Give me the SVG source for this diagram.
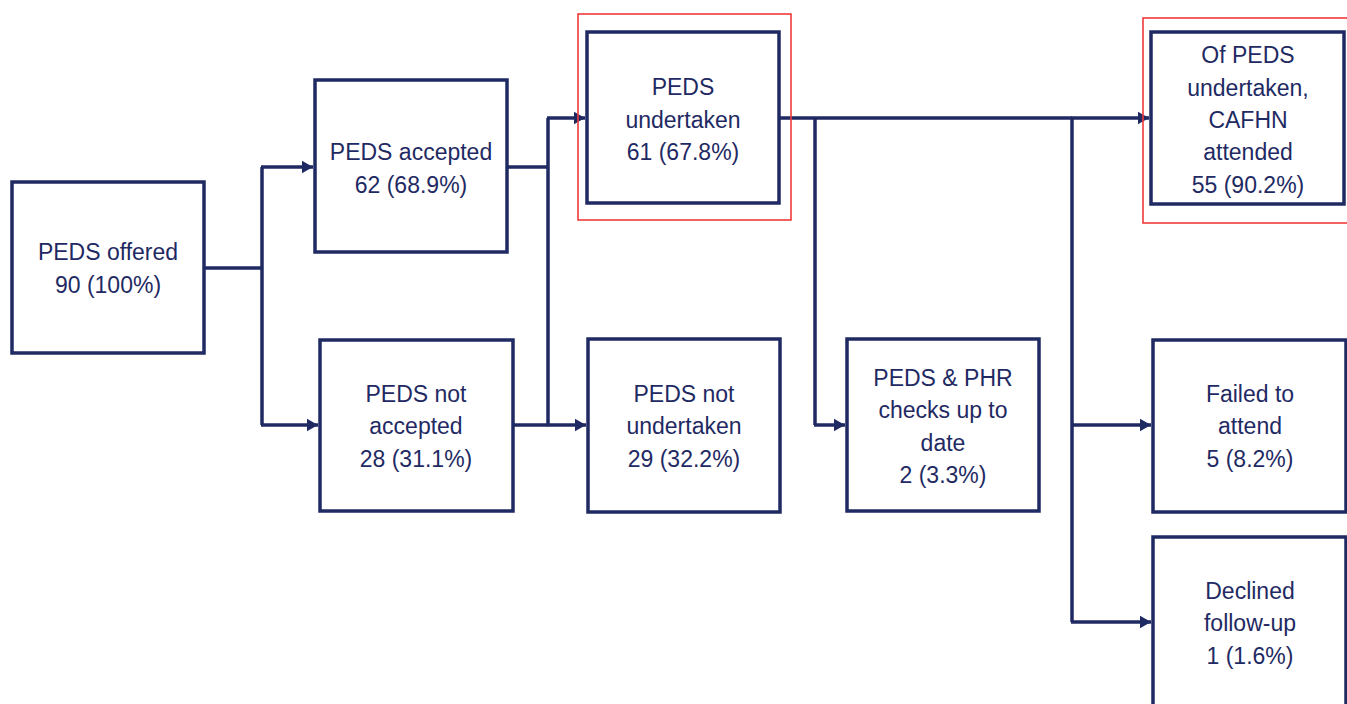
<svg xmlns="http://www.w3.org/2000/svg" width="1347" height="704" viewBox="0 0 1347 704">
<style>
.box{fill:#fff;stroke:#1f2a63;stroke-width:3.5}
.hl{fill:none;stroke:#f03a3a;stroke-width:1.6}
.ln{fill:none;stroke:#1f2a63;stroke-width:3.5}
.ar{marker-end:url(#ah)}
text{font-family:"Liberation Sans",Arial,sans-serif;font-size:23px;fill:#1f2a63;text-anchor:middle}
</style>
<defs>
<marker id="ah" markerWidth="4" markerHeight="4" refX="3.2" refY="2" orient="auto" markerUnits="strokeWidth">
<path d="M0,0.2 L3.2,2 L0,3.8 Z" fill="#1f2a63"/>
</marker>
</defs>
<rect width="1347" height="704" fill="#fff"/>
<g id="connectors">
<path class="ln" d="M205,268 H262 M262,167 V425 M507,167 H548 M513,425 H548 M548,118 V425 M779,118 H815 M815,118 V425 M815,118 H1072 M1072,118 V622"/>
<path class="ln ar" d="M261,167 H313"/>
<path class="ln ar" d="M261,425 H318"/>
<path class="ln ar" d="M547,118 H585"/>
<path class="ln ar" d="M547,425 H586"/>
<path class="ln ar" d="M1071,118 H1149"/>
<path class="ln ar" d="M814,425 H845"/>
<path class="ln ar" d="M1071,425 H1151"/>
<path class="ln ar" d="M1071,622 H1151"/>
</g>
<g id="n1"><rect class="box" x="12" y="182" width="192" height="171"/>
<text x="108" y="260">PEDS offered</text><text x="108" y="293">90 (100%)</text></g>
<g id="n2"><rect class="box" x="315" y="80" width="192" height="172"/>
<text x="411" y="160">PEDS accepted</text><text x="411" y="193">62 (68.9%)</text></g>
<g id="n3"><rect class="box" x="320" y="340" width="193" height="171"/>
<text x="416" y="402">PEDS not</text><text x="416" y="434">accepted</text><text x="416" y="467">28 (31.1%)</text></g>
<g id="n4"><rect class="hl" x="578" y="14" width="213" height="206"/><rect class="box" x="587" y="32" width="192" height="171"/>
<text x="683" y="95">PEDS</text><text x="683" y="128">undertaken</text><text x="683" y="160">61 (67.8%)</text></g>
<g id="n5"><rect class="box" x="588" y="339" width="192" height="173"/>
<text x="684" y="402">PEDS not</text><text x="684" y="434">undertaken</text><text x="684" y="467">29 (32.2%)</text></g>
<g id="n6"><rect class="box" x="847" y="339" width="192" height="172"/>
<text x="943" y="386">PEDS &amp; PHR</text><text x="943" y="418">checks up to</text><text x="943" y="451">date</text><text x="943" y="483">2 (3.3%)</text></g>
<g id="n7"><rect class="hl" x="1143" y="18" width="220" height="205"/><rect class="box" x="1151" y="32" width="193" height="172"/>
<text x="1248" y="63">Of PEDS</text><text x="1248" y="96">undertaken,</text><text x="1248" y="128">CAFHN</text><text x="1248" y="160">attended</text><text x="1248" y="193">55 (90.2%)</text></g>
<g id="n8"><rect class="box" x="1153" y="340" width="193" height="172"/>
<text x="1250" y="402">Failed to</text><text x="1250" y="434">attend</text><text x="1250" y="467">5 (8.2%)</text></g>
<g id="n9"><rect class="box" x="1153" y="537" width="193" height="190"/>
<text x="1250" y="599">Declined</text><text x="1250" y="631">follow-up</text><text x="1250" y="664">1 (1.6%)</text></g>
</svg>
